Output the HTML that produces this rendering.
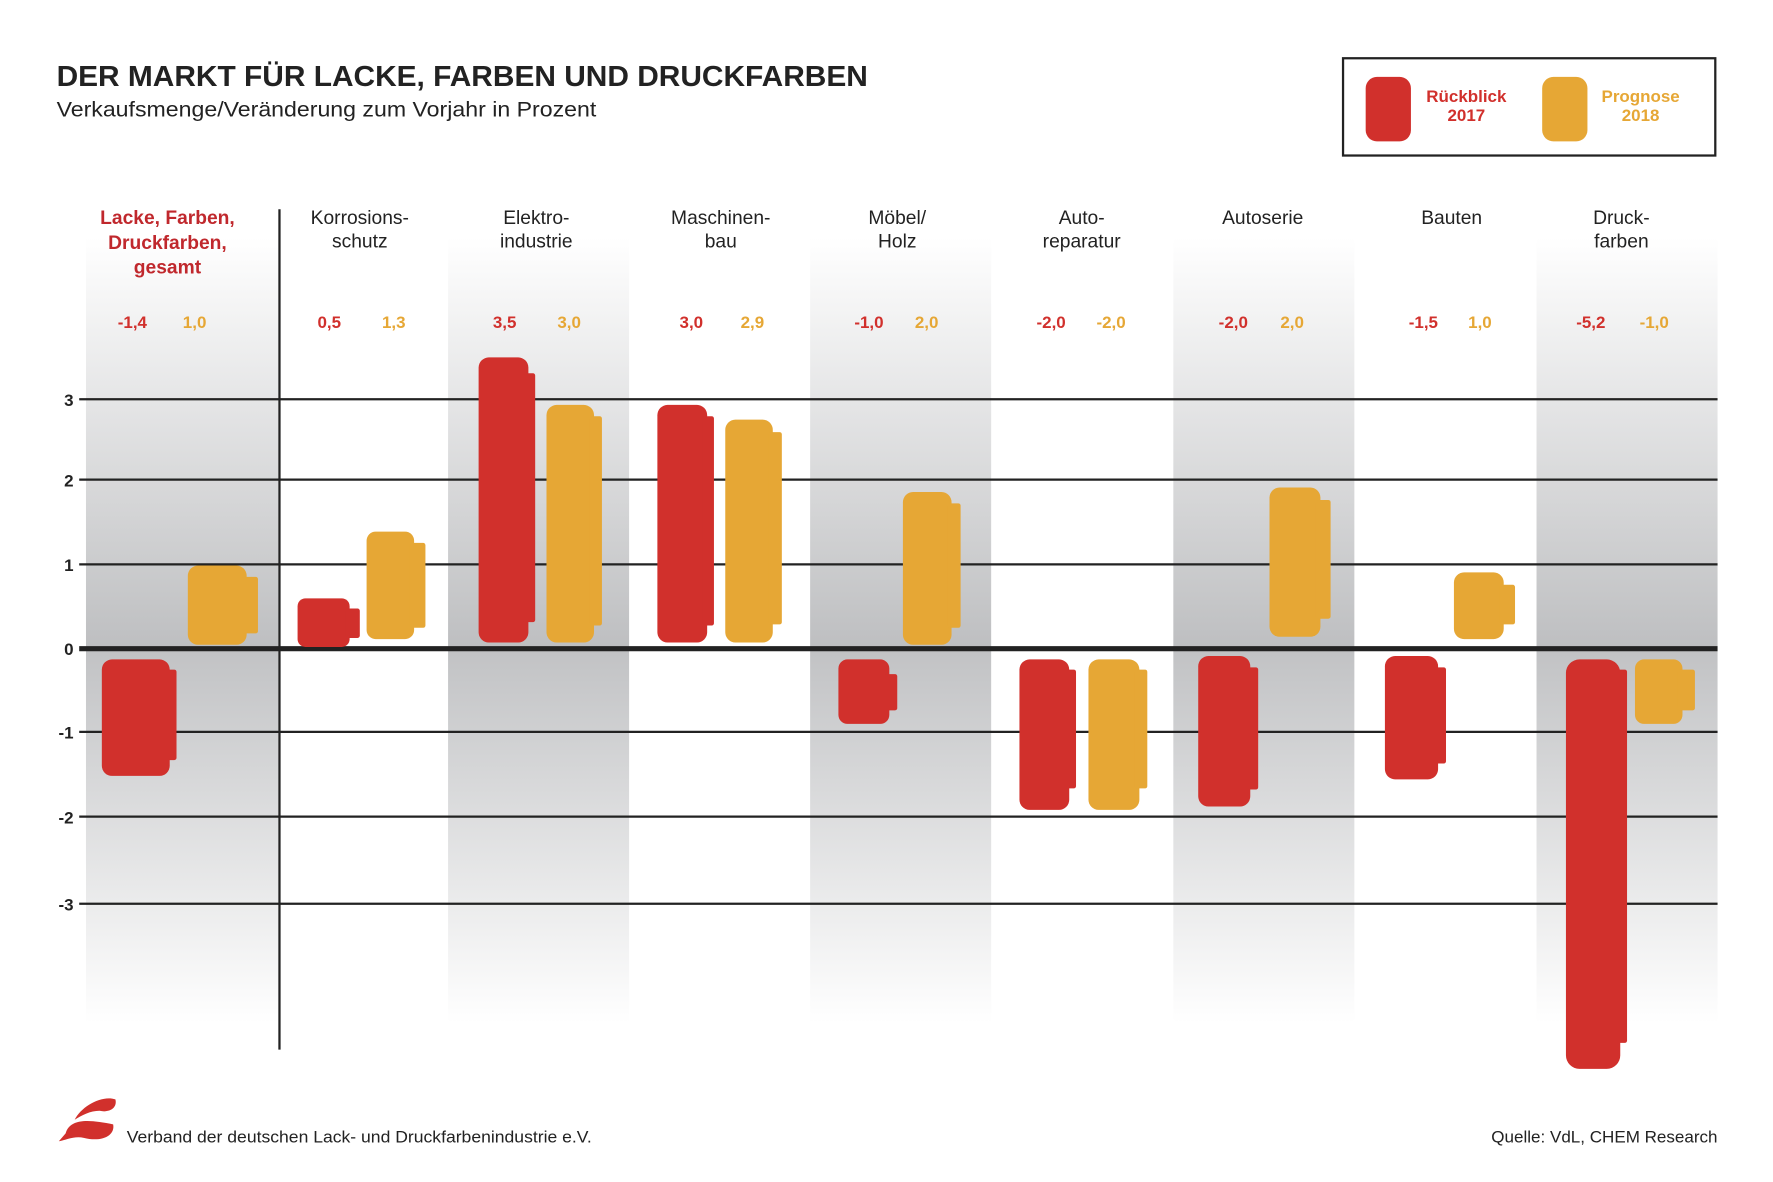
<!DOCTYPE html>
<html><head><meta charset="utf-8"><style>
html,body{margin:0;padding:0;background:#fff}
svg{display:block}
text{font-family:"Liberation Sans",sans-serif}
</style></head><body>
<svg width="1773" height="1182" viewBox="0 0 1567 1045" preserveAspectRatio="none" xmlns="http://www.w3.org/2000/svg">
<defs>
<linearGradient id="bg" x1="0" y1="210" x2="0" y2="905" gradientUnits="userSpaceOnUse">
<stop offset="0" stop-color="#ffffff"/>
<stop offset="0.52" stop-color="#bebfc1"/>
<stop offset="0.53" stop-color="#c2c3c5"/>
<stop offset="1" stop-color="#ffffff"/>
</linearGradient>
</defs>
<rect width="1567" height="1045" fill="#fff"/>
<text x="50" y="76" font-size="25" font-weight="bold" fill="#222" textLength="717" lengthAdjust="spacingAndGlyphs">DER MARKT FÜR LACKE, FARBEN UND DRUCKFARBEN</text>
<text x="50" y="103" font-size="19" fill="#222" textLength="477" lengthAdjust="spacingAndGlyphs">Verkaufsmenge/Veränderung zum Vorjahr in Prozent</text>

<!-- legend -->
<rect x="1187" y="51.5" width="329" height="86" fill="#fff" stroke="#222" stroke-width="2"/>
<rect x="1207" y="68" width="40" height="57" rx="10" fill="#d1302c"/>
<rect x="1363" y="68" width="40" height="57" rx="10" fill="#e6a735"/>
<text x="1296" y="90" font-size="15" font-weight="bold" fill="#d1302c" text-anchor="middle">Rückblick</text>
<text x="1296" y="107" font-size="15" font-weight="bold" fill="#d1302c" text-anchor="middle">2017</text>
<text x="1450" y="90" font-size="15" font-weight="bold" fill="#e6a735" text-anchor="middle">Prognose</text>
<text x="1450" y="107" font-size="15" font-weight="bold" fill="#e6a735" text-anchor="middle">2018</text>

<!-- bands -->
<g fill="url(#bg)">
<rect x="76" y="210" width="170" height="695"/>
<rect x="396" y="210" width="160" height="695"/>
<rect x="716" y="210" width="160" height="695"/>
<rect x="1037" y="210" width="160" height="695"/>
<rect x="1358" y="210" width="160" height="695"/>
</g>

<!-- gridlines -->
<g stroke="#222" stroke-width="2">
<line x1="70" x2="1518" y1="353" y2="353"/>
<line x1="70" x2="1518" y1="424" y2="424"/>
<line x1="70" x2="1518" y1="499" y2="499"/>
<line x1="70" x2="1518" y1="647" y2="647"/>
<line x1="70" x2="1518" y1="722" y2="722"/>
<line x1="70" x2="1518" y1="799" y2="799"/>
</g>
<line x1="70" x2="1518" y1="573.5" y2="573.5" stroke="#222" stroke-width="4.5"/>
<line x1="247" x2="247" y1="185" y2="928" stroke="#222" stroke-width="2"/>

<!-- tick labels -->
<g font-size="15" font-weight="bold" fill="#222" text-anchor="end">
<text x="65" y="359">3</text>
<text x="65" y="430">2</text>
<text x="65" y="505">1</text>
<text x="65" y="579">0</text>
<text x="65" y="653">-1</text>
<text x="65" y="728">-2</text>
<text x="65" y="805">-3</text>
</g>

<!-- category labels -->
<g font-size="17" fill="#222" text-anchor="middle">
<text x="148" y="198" fill="#c0282d" font-weight="bold">Lacke, Farben,</text>
<text x="148" y="220" fill="#c0282d" font-weight="bold">Druckfarben,</text>
<text x="148" y="242" fill="#c0282d" font-weight="bold">gesamt</text>
<text x="318" y="198">Korrosions-</text><text x="318" y="219">schutz</text>
<text x="474" y="198">Elektro-</text><text x="474" y="219">industrie</text>
<text x="637" y="198">Maschinen-</text><text x="637" y="219">bau</text>
<text x="793" y="198">Möbel/</text><text x="793" y="219">Holz</text>
<text x="956" y="198">Auto-</text><text x="956" y="219">reparatur</text>
<text x="1116" y="198">Autoserie</text>
<text x="1283" y="198">Bauten</text>
<text x="1433" y="198">Druck-</text><text x="1433" y="219">farben</text>
</g>

<!-- values -->
<g font-size="15" font-weight="bold" text-anchor="middle">
<g fill="#d1302c">
<text x="117" y="290">-1,4</text><text x="291" y="290">0,5</text><text x="446" y="290">3,5</text>
<text x="611" y="290">3,0</text><text x="768" y="290">-1,0</text><text x="929" y="290">-2,0</text>
<text x="1090" y="290">-2,0</text><text x="1258" y="290">-1,5</text><text x="1406" y="290">-5,2</text>
</g>
<g fill="#e6a735">
<text x="172" y="290">1,0</text><text x="348" y="290">1,3</text><text x="503" y="290">3,0</text>
<text x="665" y="290">2,9</text><text x="819" y="290">2,0</text><text x="982" y="290">-2,0</text>
<text x="1142" y="290">2,0</text><text x="1308" y="290">1,0</text><text x="1462" y="290">-1,0</text>
</g>
</g>

<!-- bars -->
<g fill="#d1302c">
<rect x="90" y="583" width="60" height="103" rx="9"/><rect x="146" y="592" width="10" height="80" rx="2"/>
<rect x="263" y="529" width="46" height="43" rx="7"/><rect x="305" y="538" width="13" height="26" rx="2"/>
<rect x="423" y="316" width="44" height="252" rx="9"/><rect x="462" y="330" width="11" height="220" rx="2"/>
<rect x="581" y="358" width="44" height="210" rx="9"/><rect x="621" y="368" width="10" height="185" rx="2"/>
<rect x="741" y="583" width="45" height="57" rx="8"/><rect x="782" y="596" width="11" height="32" rx="2"/>
<rect x="901" y="583" width="44" height="133" rx="9"/><rect x="941" y="592" width="10" height="105" rx="2"/>
<rect x="1059" y="580" width="46" height="133" rx="9"/><rect x="1101" y="590" width="11" height="108" rx="2"/>
<rect x="1224" y="580" width="47" height="109" rx="9"/><rect x="1267" y="590" width="11" height="85" rx="2"/>
<rect x="1384" y="583" width="48" height="362" rx="12"/><rect x="1428" y="592" width="10" height="330" rx="2"/>
</g>
<g fill="#e6a735">
<rect x="166" y="500" width="52" height="70" rx="9"/><rect x="214" y="510" width="14" height="50" rx="2"/>
<rect x="324" y="470" width="42" height="95" rx="8"/><rect x="362" y="480" width="14" height="75" rx="2"/>
<rect x="483" y="358" width="42" height="210" rx="9"/><rect x="521" y="368" width="11" height="185" rx="2"/>
<rect x="641" y="371" width="42" height="197" rx="9"/><rect x="679" y="382" width="12" height="170" rx="2"/>
<rect x="798" y="435" width="43" height="135" rx="9"/><rect x="837" y="445" width="12" height="110" rx="2"/>
<rect x="962" y="583" width="45" height="133" rx="9"/><rect x="1003" y="592" width="11" height="105" rx="2"/>
<rect x="1122" y="431" width="45" height="132" rx="9"/><rect x="1163" y="442" width="13" height="105" rx="2"/>
<rect x="1285" y="506" width="44" height="59" rx="9"/><rect x="1325" y="517" width="14" height="35" rx="2"/>
<rect x="1445" y="583" width="42" height="57" rx="8"/><rect x="1483" y="592" width="15" height="36" rx="2"/>
</g>

<!-- footer -->
<path d="M58 1002 C62 988 80 990 100 994 C102 1004 90 1010 74 1006 C66 1004 58 1008 52 1009 Z" fill="#d1302c"/>
<path d="M66 990 C72 978 90 968 102 972 C104 980 96 984 88 982 C80 982 72 986 66 990 Z" fill="#d1302c"/>
<text x="112" y="1010" font-size="14.5" fill="#222" textLength="411" lengthAdjust="spacingAndGlyphs">Verband der deutschen Lack- und Druckfarbenindustrie e.V.</text>
<text x="1518" y="1010" font-size="14.5" fill="#222" text-anchor="end" textLength="200" lengthAdjust="spacingAndGlyphs">Quelle: VdL, CHEM Research</text>
</svg>
</body></html>
